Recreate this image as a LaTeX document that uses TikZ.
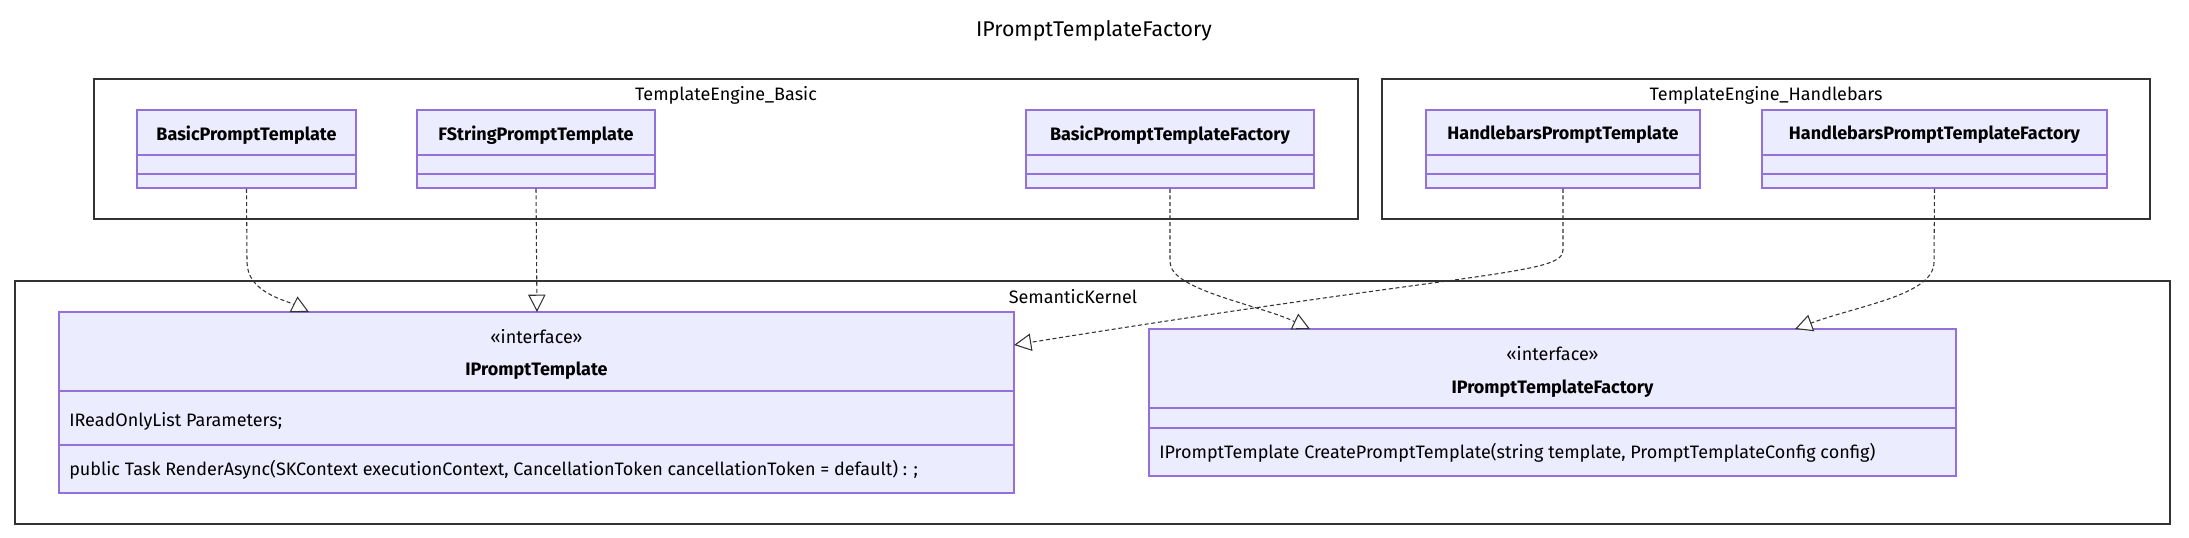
\documentclass[tikz,border=0pt]{standalone}
\usepackage{fontspec}
\setmainfont{Fira Sans}
\usetikzlibrary{arrows.meta,calc}
\definecolor{cfill}{HTML}{ECECFF}
\definecolor{cline}{HTML}{9370DB}
\begin{document}
\begin{tikzpicture}[x=0.75pt,y=-0.75pt,
  box/.style={draw=cline,fill=cfill,line width=1.2pt,inner sep=0pt},
  grp/.style={draw=black!80,line width=1pt},
  sep/.style={draw=cline,line width=1.2pt},
  txt/.style={font=\fontsize{13.5}{15}\selectfont,inner sep=0pt},
  btxt/.style={font=\fontsize{13.5}{15}\selectfont\bfseries,inner sep=0pt},
  real/.style={densely dashed,draw=black!80,line width=0.8pt,
    -{Triangle[open,length=13pt,width=13pt,fill=white]}}]
\useasboundingbox (0,0) rectangle (2189,537);
\fill[white] (0,0) rectangle (2189,537);
\node[txt,font=\fontsize{16}{18}\selectfont] (title) at (1094,31) {IPromptTemplateFactory};
% groups
\draw[grp] (94,79) rectangle (1358,219);
\node[txt] (g1) at (726,95) {TemplateEngine\_Basic};
\draw[grp] (1382,79) rectangle (2150,219);
\node[txt] (g2) at (1766,95) {TemplateEngine\_Handlebars};
\draw[grp] (15,281) rectangle (2170,524);
\node[txt] (g3) at (1073,297) {SemanticKernel};
% small classes
\foreach \n/\a/\b/\t in {bpt/137/356/BasicPromptTemplate, fpt/417/655/FStringPromptTemplate,
  bptf/1026/1314/BasicPromptTemplateFactory, hpt/1426/1700/HandlebarsPromptTemplate,
  hptf/1762/2107/HandlebarsPromptTemplateFactory}{
  \node[box,minimum width={(\b-\a)*0.75pt},minimum height={78*0.75pt}] (\n) at ({(\a+\b)/2},149) {};
  \draw[sep] (\a,155) -- (\b,155);
  \draw[sep] (\a,174) -- (\b,174);
  \node[btxt] (\n-t) at ({(\a+\b)/2},135) {\t};
}
% IPromptTemplate
\node[box,minimum width={955*0.75pt},minimum height={181*0.75pt}] (ipt) at (536.5,402.5) {};
\draw[sep] (59,391) -- (1014,391);
\draw[sep] (59,445) -- (1014,445);
\node[txt] (ipt-s) at (536.5,337) {«interface»};
\node[btxt] (ipt-n) at (536.5,371) {IPromptTemplate};
\node[txt,anchor=west] (ipt-a) at (69,421) {IReadOnlyList Parameters;};
\node[txt,anchor=west] (ipt-m) at (69,470) {public Task RenderAsync(SKContext executionContext, CancellationToken cancellationToken = default) : ;};
% IPromptTemplateFactory
\node[box,minimum width={807*0.75pt},minimum height={147*0.75pt}] (iptf) at (1552.5,402.5) {};
\draw[sep] (1149,408) -- (1956,408);
\draw[sep] (1149,428) -- (1956,428);
\node[txt] (iptf-s) at (1552.5,354) {«interface»};
\node[btxt] (iptf-n) at (1552.5,389) {IPromptTemplateFactory};
\node[txt,anchor=west] (iptf-m) at (1159,453) {IPromptTemplate CreatePromptTemplate(string template, PromptTemplateConfig config)};
% connectors
\coordinate (e1) at (309,312);
\coordinate (e2) at (537,312);
\coordinate (e3) at (1310,329);
\coordinate (e4) at (1014,345);
\coordinate (e5) at (1795,329);
\draw[real] (bpt.south) -- (247,262) .. controls (247,292) and (285,300) .. (e1);
\draw[real] (fpt.south) -- (e2);
\draw[real] (bptf.south) -- (1170,262) .. controls (1170,290) and (1260,305) .. (e3);
\draw[real] (hpt.south) -- (1563,250) .. controls (1563,275) and (1480,270) .. (e4);
\draw[real] (hptf.south) -- (1934,262) .. controls (1934,295) and (1860,305) .. (e5);
\end{tikzpicture}
\end{document}
